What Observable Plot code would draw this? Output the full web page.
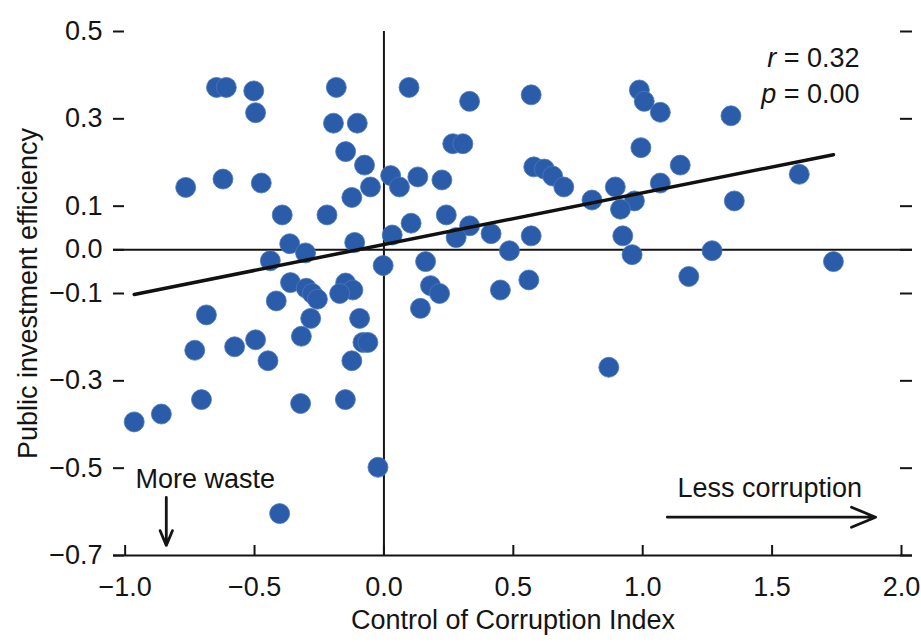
<!DOCTYPE html>
<html>
<head>
<meta charset="utf-8">
<script src="https://cdn.jsdelivr.net/npm/d3@7"></script>
<script src="https://cdn.jsdelivr.net/npm/@observablehq/plot@0.6"></script>
<style>
  html, body { margin: 0; padding: 0; background: #fff; }
</style>
</head>
<body>
<div id="chart"></div>
<script>
// Control of Corruption Index (x) for each country
const corruptionIndex = [
  -0.647, -0.609, -0.503, -0.496, -0.184, -0.195, -0.103, -0.148, -0.075, -0.052,
  -0.124, 0.026, 0.060, -0.766, -0.622, -0.474, -0.393, -0.220, -0.364, -0.303,
  -0.113, 0.032, -0.439, -0.003, 0.097, 0.331, 0.569, 0.987, 1.006, 1.068,
  0.266, 0.305, 0.993, 0.131, 0.224, 0.579, 0.620, 0.652, 0.695, 1.145,
  1.068, 0.894, 0.804, 0.968, 0.914, 0.105, 0.241, 0.331, 0.279, 0.414,
  0.569, 0.923, 0.485, 0.161, 0.959, 0.180, 0.215, 0.141, 0.450, 0.560,
  0.869, 1.178, 1.268, 1.737, 1.341, 1.605, 1.354, -0.361, -0.300, -0.277,
  -0.257, -0.148, -0.120, -0.171, -0.416, -0.686, -0.283, -0.094, -0.319, -0.081,
  -0.062, -0.731, -0.577, -0.496, -0.448, -0.124, -0.705, -0.322, -0.149, -0.860,
  -0.965, -0.023, -0.403
];
// Public investment efficiency (y) for each country
const investmentEfficiency = [
  0.372, 0.372, 0.364, 0.314, 0.372, 0.290, 0.290, 0.225, 0.194, 0.144,
  0.120, 0.170, 0.144, 0.143, 0.162, 0.153, 0.080, 0.080, 0.014, -0.007,
  0.017, 0.034, -0.025, -0.036, 0.372, 0.340, 0.355, 0.366, 0.340, 0.315,
  0.243, 0.243, 0.234, 0.167, 0.160, 0.190, 0.185, 0.169, 0.144, 0.194,
  0.153, 0.144, 0.114, 0.112, 0.093, 0.061, 0.080, 0.055, 0.028, 0.037,
  0.032, 0.032, -0.002, -0.027, -0.011, -0.082, -0.100, -0.134, -0.092, -0.069,
  -0.269, -0.061, -0.002, -0.027, 0.307, 0.173, 0.112, -0.075, -0.088, -0.100,
  -0.113, -0.076, -0.092, -0.100, -0.117, -0.149, -0.157, -0.157, -0.198, -0.212,
  -0.212, -0.230, -0.222, -0.206, -0.254, -0.254, -0.343, -0.352, -0.343, -0.376,
  -0.394, -0.498, -0.604
];

const xTicks = [-1, -0.5, 0, 0.5, 1, 1.5, 2];
const yTicks = [0.5, 0.3, 0.1, 0, -0.1, -0.3, -0.5, -0.7];
const xLabel = "Control of Corruption Index";
const yLabel = "Public investment efficiency";

// Statistics annotation
const statLabels = ["r = 0.32", "p = 0.00"];
const statX = [1.838, 1.838];
const statY = [0.438, 0.355];

// Direction notes and arrows
const noteLabels = ["More waste", "Less corruption"];
const noteX = [-0.960, 1.1345];
const noteY = [-0.5246, -0.5452];
const arrowX1 = [-0.841, 1.095];
const arrowX2 = [-0.841, 1.900];
const arrowY1 = [-0.567, -0.6123];
const arrowY2 = [-0.677, -0.6123];

const points = corruptionIndex.map((x, i) => ({x, y: investmentEfficiency[i]}));
const stats = statLabels.map((t, i) => ({t, x: statX[i], y: statY[i]}));
const notes = noteLabels.map((t, i) => ({t, x: noteX[i], y: noteY[i]}));
const arrows = arrowX1.map((x1, i) => ({x1, x2: arrowX2[i], y1: arrowY1[i], y2: arrowY2[i]}));

const fmt = d3.format(".1f");
const ink = "#141414";
const FS = 27;

const chart = Plot.plot({
  width: 921,
  height: 642,
  marginLeft: 113,
  marginRight: 9,
  marginTop: 31,
  marginBottom: 87,
  x: {domain: [-1.045, 2.0425]},
  y: {domain: [-0.7, 0.5]},
  style: {
    fontFamily: "'Liberation Sans', Arial, sans-serif",
    fontSize: FS + "px",
    color: ink,
    background: "#fff"
  },
  marks: [
    // axes labels
    Plot.axisX({ticks: xTicks, tickSize: 0, tickPadding: 21, tickFormat: fmt, label: null, fontSize: FS}),
    Plot.axisY({ticks: yTicks, tickSize: 0, tickPadding: 11, tickFormat: fmt, label: null, fontSize: FS}),
    // inward tick marks
    Plot.tickX(xTicks, {x: d => d, insetTop: 514, stroke: ink, strokeWidth: 2}),
    Plot.tickY(yTicks, {y: d => d, insetRight: 788, stroke: ink, strokeWidth: 2}),
    Plot.tickY(yTicks, {y: d => d, insetLeft: 787, stroke: ink, strokeWidth: 2}),
    // bottom frame line and zero lines
    Plot.ruleY([-0.7], {stroke: ink, strokeWidth: 2}),
    Plot.ruleY([0], {stroke: ink, strokeWidth: 2}),
    Plot.ruleX([0], {stroke: ink, strokeWidth: 2}),
    // data
    Plot.dot(points, {x: "x", y: "y", r: 10, fill: "#2b5ca9", stroke: "#4a78bd", strokeWidth: 0.8}),
    Plot.linearRegressionY(points, {x: "x", y: "y", ci: 0, stroke: "#111", strokeWidth: 3.5}),
    // annotations
    Plot.text(stats, {x: "x", y: "y", text: "t", textAnchor: "end", fontSize: FS, fill: ink}),
    Plot.text(notes, {x: "x", y: "y", text: "t", textAnchor: "start", fontSize: FS, fill: ink}),
    Plot.arrow(arrows, {x1: "x1", y1: "y1", x2: "x2", y2: "y2", stroke: ink, strokeWidth: 2.8, headLength: 14, headAngle: 45}),
    // axis titles
    Plot.text([xLabel], {text: d => d, frameAnchor: "bottom", textAnchor: "middle", dy: 73, fontSize: FS, fill: ink}),
    Plot.text([yLabel], {text: d => d, x: () => -1.3735, y: () => -0.1, textAnchor: "middle", rotate: -90, fontSize: FS, fill: ink})
  ]
});

// italicise the statistic symbols (r, p)
d3.select(chart).selectAll("text").each(function() {
  const t = this.textContent;
  if (statLabels.includes(t)) {
    const sel = d3.select(this);
    sel.text(null);
    sel.append("tspan").attr("font-style", "italic").text(t.charAt(0));
    sel.append("tspan").text(t.slice(1));
  }
});

document.getElementById("chart").appendChild(chart);
</script>
</body>
</html>
